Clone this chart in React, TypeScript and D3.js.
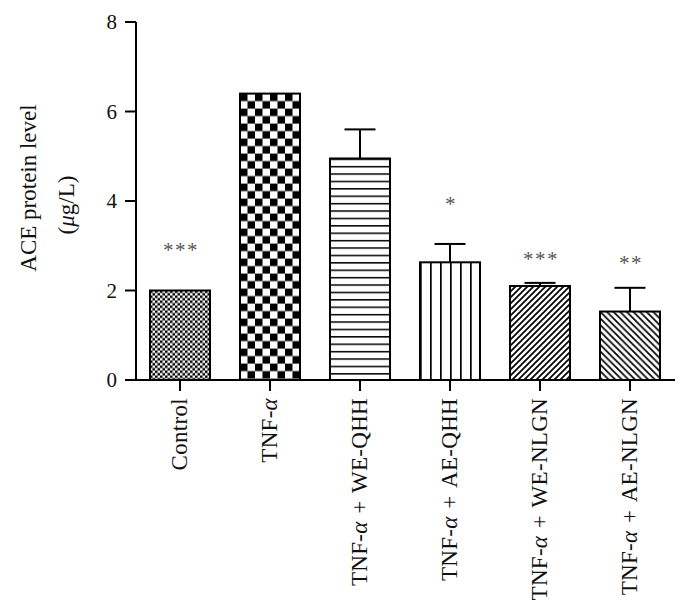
import React from "react";
import * as d3 from "d3";

const categories = ["Control", "TNF-α", "TNF-α + WE-QHH", "TNF-α + AE-QHH", "TNF-α + WE-NLGN", "TNF-α + AE-NLGN"];
const means = [2.0, 6.4, 4.95, 2.63, 2.1, 1.53];
const errors = [0, 0, 0.65, 0.41, 0.07, 0.53];
const stars = ["***", "", "", "*", "***", "**"];
const starLevels = [2.95, 0, 0, 3.98, 2.77, 2.66];
const yTicks = [0, 2, 4, 6, 8];
const patternKinds = ["fineCheck", "bigCheck", "hLines", "vLines", "diagUp", "diagDown"];

const W = 690;
const H = 603;
const FONT = "'Liberation Serif', 'Times New Roman', serif";

function Label({ text, x, y, size }: { text: string; x: number; y: number; size: number }) {
  const parts = text.split("α");
  return (
    <text
      transform={`translate(${x},${y}) rotate(-90)`}
      textAnchor="end"
      fontFamily={FONT}
      fontSize={size}
      wordSpacing={1.5}
      letterSpacing={0.3}
      fill="#111"
    >
      {parts.map((p, i) => (
        <React.Fragment key={i}>
          {i > 0 && <tspan fontStyle="italic">α</tspan>}
          <tspan>{p}</tspan>
        </React.Fragment>
      ))}
    </text>
  );
}

export default function App() {
  const x = d3.scaleBand<string>().domain(categories).range([135, 675]).paddingInner(1 / 3).paddingOuter(1 / 6);
  const y = d3.scaleLinear().domain([0, 8]).range([380, 22]);
  const bw = x.bandwidth();
  const x0 = 136;
  const y0 = y(0);

  const pattern = (kind: string, i: number, bx: number, by: number) => {
    const id = `p${i}`;
    if (kind === "fineCheck" || kind === "bigCheck") {
      const c = kind === "fineCheck" ? 2.5 : 7.5;
      return (
        <pattern id={id} key={id} patternUnits="userSpaceOnUse" x={bx} y={by} width={c * 2} height={c * 2}>
          <rect width={c * 2} height={c * 2} fill="#fff" />
          <rect x={0} y={0} width={c} height={c} fill="#000" />
          <rect x={c} y={c} width={c} height={c} fill="#000" />
        </pattern>
      );
    }
    if (kind === "hLines") {
      const s = 7.4;
      return (
        <pattern id={id} key={id} patternUnits="userSpaceOnUse" x={bx} y={by} width={10} height={s}>
          <rect width={10} height={s} fill="#fff" />
          <line x1={0} x2={10} y1={0} y2={0} stroke="#000" strokeWidth={3} />
        </pattern>
      );
    }
    if (kind === "vLines") {
      const s = 10;
      return (
        <pattern id={id} key={id} patternUnits="userSpaceOnUse" x={bx} y={by} width={s} height={10}>
          <rect width={s} height={10} fill="#fff" />
          <line x1={0} x2={0} y1={0} y2={10} stroke="#000" strokeWidth={3.4} />
        </pattern>
      );
    }
    if (kind === "diagUp") {
      const s = 6;
      return (
        <pattern id={id} key={id} patternUnits="userSpaceOnUse" x={bx} y={by} width={s} height={s}>
          <rect width={s} height={s} fill="#fff" />
          <path d={`M${-s},${s * 2} L${s * 2},${-s} M${-s},${s} L${s},${-s} M0,${s * 2} L${s * 2},0`} stroke="#000" strokeWidth={1.7} />
        </pattern>
      );
    }
    const s = 6.6;
    return (
      <pattern id={id} key={id} patternUnits="userSpaceOnUse" x={bx} y={by} width={s} height={s}>
        <rect width={s} height={s} fill="#fff" />
        <path d={`M${-s},${-s} L${s * 2},${s * 2} M${-s},0 L${s},${s * 2} M0,${-s} L${s * 2},${s}`} stroke="#000" strokeWidth={1.7} />
      </pattern>
    );
  };

  return (
    <svg width={W} height={H} style={{ position: "absolute", left: 0, top: 0, background: "#fff" }}>
      <rect width={W} height={H} fill="#fff" />
      <defs>
        {categories.map((c, i) => pattern(patternKinds[i], i, x(c)!, y(means[i])))}
      </defs>

      {categories.map((c, i) => (
        <rect
          key={c}
          x={x(c)!}
          y={y(means[i])}
          width={bw}
          height={y0 - y(means[i])}
          fill={`url(#p${i})`}
          stroke="#000"
          strokeWidth={2}
        />
      ))}

      {categories.map((c, i) =>
        errors[i] > 0 ? (
          <g key={c} stroke="#000" strokeWidth={2}>
            <line x1={x(c)! + bw / 2} x2={x(c)! + bw / 2} y1={y(means[i])} y2={y(means[i] + errors[i])} />
            <line x1={x(c)! + bw / 2 - 15.5} x2={x(c)! + bw / 2 + 15.5} y1={y(means[i] + errors[i])} y2={y(means[i] + errors[i])} />
          </g>
        ) : null
      )}

      {categories.map((c, i) =>
        stars[i] ? (
          <text
            key={c}
            x={x(c)! + bw / 2 + 1}
            y={y(starLevels[i]) + 9.5}
            textAnchor="middle"
            fontFamily={FONT}
            fontSize={21}
            letterSpacing={1.5}
            fill="#555"
          >
            {stars[i]}
          </text>
        ) : null
      )}

      <line x1={x0} x2={x0} y1={y(8)} y2={y0} stroke="#000" strokeWidth={2} />
      {yTicks.map((t) => (
        <g key={t}>
          <line x1={x0 - 11} x2={x0} y1={y(t)} y2={y(t)} stroke="#000" strokeWidth={2} />
          <text x={x0 - 19} y={y(t)} dy="0.34em" textAnchor="end" fontFamily={FONT} fontSize={21} fill="#111">
            {t}
          </text>
        </g>
      ))}

      <line x1={x0 - 1} x2={675} y1={y0} y2={y0} stroke="#000" strokeWidth={2} />
      {categories.map((c) => (
        <line key={c} x1={x(c)! + bw / 2} x2={x(c)! + bw / 2} y1={y0} y2={y0 + 11} stroke="#000" strokeWidth={2} />
      ))}
      {categories.map((c) => (
        <Label key={c} text={c} x={x(c)! + bw / 2 + 7} y={y0 + 18} size={23} />
      ))}

      <text transform={`translate(36,188) rotate(-90)`} textAnchor="middle" fontFamily={FONT} fontSize={23} fill="#111">
        ACE protein level
      </text>
      <text transform={`translate(74,205) rotate(-90)`} textAnchor="middle" fontFamily={FONT} fontSize={23} fill="#111">
        (<tspan fontStyle="italic">μ</tspan>g/L)
      </text>
    </svg>
  );
}
